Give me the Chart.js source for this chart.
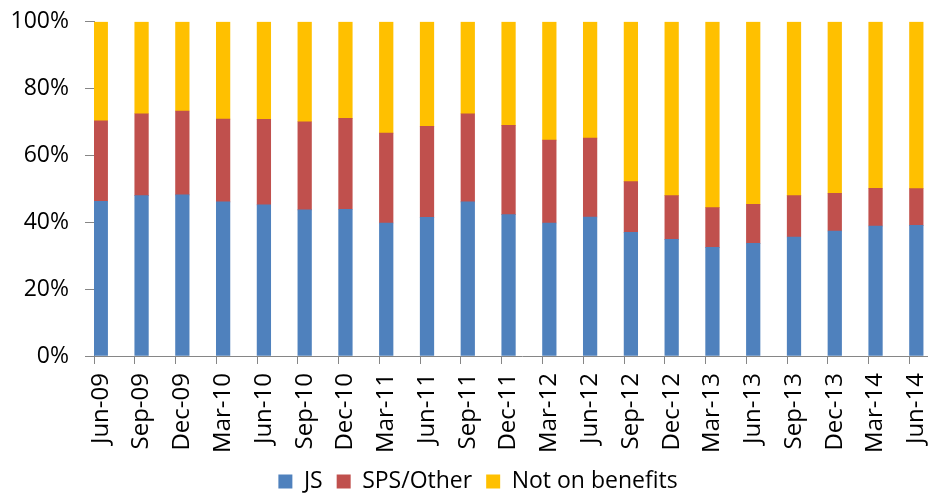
<!DOCTYPE html>
<html>
<head>
<meta charset="utf-8">
<script src="https://cdn.jsdelivr.net/npm/chart.js@4.4.1/dist/chart.umd.min.js"></script>
<style>
  html, body { margin: 0; padding: 0; background: #fff; }
  #wrap { width: 928px; height: 493px; overflow: hidden; position: relative; }
  canvas { display: block; margin-top: -8px; }
</style>
</head>
<body>
<div id="wrap"><canvas id="chart" width="968" height="511"></canvas></div>
<script>
// --- Dados ---
const quarters = ['Jun-09', 'Sep-09', 'Dec-09', 'Mar-10', 'Jun-10', 'Sep-10', 'Dec-10',
    'Mar-11', 'Jun-11', 'Sep-11', 'Dec-11', 'Mar-12', 'Jun-12', 'Sep-12', 'Dec-12',
    'Mar-13', 'Jun-13', 'Sep-13', 'Dec-13', 'Mar-14', 'Jun-14'];
const jsShare = [46.3, 48.0, 48.2, 46.1, 45.2, 43.7, 43.9, 39.8, 41.5, 46.1, 42.3,
    39.8, 41.6, 37.0, 34.9, 32.5, 33.7, 35.6, 37.4, 38.9, 39.1];
const spsShare = [24.1, 24.5, 25.1, 24.8, 25.6, 26.4, 27.2, 26.9, 27.2, 26.4, 26.7,
    24.8, 23.6, 15.2, 13.1, 11.9, 11.7, 12.4, 11.3, 11.3, 11.0];
const notOnBenefits = jsShare.map((v, i) => +(100 - v - spsShare[i]).toFixed(1));
const yTicks = [0, 20, 40, 60, 80, 100];

const Cores = {
    js: '#4F81BD',
    sps: '#C0504D',
    none: '#FFC000',
    axis: '#868686',
    text: '#000000'
};
const fonte = { family: '"Open Sans", sans-serif', size: 23 };
const fonteX = { family: '"Open Sans", sans-serif', size: 24 };

// Pilhas vazias só para empurrar as barras para o terço esquerdo de cada categoria
const vazio = quarters.map(() => null);

new Chart(document.getElementById('chart'), {
    type: 'bar',
    data: {
        labels: quarters,
        datasets: [
            { label: 'JS', data: jsShare, backgroundColor: Cores.js, stack: 'a' },
            { label: 'SPS/Other', data: spsShare, backgroundColor: Cores.sps, stack: 'a' },
            { label: 'Not on benefits', data: notOnBenefits, backgroundColor: Cores.none, stack: 'a' },
            { label: '_b', data: vazio, stack: 'b' },
            { label: '_c', data: vazio, stack: 'c' }
        ]
    },
    options: {
        responsive: false,
        animation: false,
        devicePixelRatio: 1,
        categoryPercentage: 1,
        barPercentage: 1,
        layout: { padding: { top: 14, right: 12, left: 0, bottom: 0 } },
        plugins: {
            tooltip: { enabled: false },
            legend: {
                position: 'bottom',
                labels: {
                    filter: (item) => item.datasetIndex < 3,
                    boxWidth: 14,
                    boxHeight: 14,
                    padding: 14,
                    color: Cores.text,
                    font: fonte
                }
            }
        },
        scales: {
            x: {
                stacked: true,
                offset: true,
                afterFit: (scale) => { scale.height = 100; },
                grid: {
                    offset: true,
                    drawOnChartArea: false,
                    drawTicks: true,
                    tickLength: 8,
                    color: Cores.axis
                },
                border: { color: Cores.axis, width: 1 },
                ticks: {
                    autoSkip: false,
                    maxRotation: 90,
                    minRotation: 90,
                    labelOffset: -13.6,
                    padding: 9,
                    color: Cores.text,
                    font: fonteX
                }
            },
            y: {
                stacked: true,
                min: 0,
                max: 100,
                afterFit: (scale) => { scale.width = 94; },
                afterBuildTicks: (scale) => { scale.ticks = yTicks.map(v => ({ value: v })); },
                grid: {
                    drawOnChartArea: false,
                    drawTicks: true,
                    tickLength: 9,
                    color: Cores.axis
                },
                border: { color: Cores.axis, width: 1 },
                ticks: {
                    padding: 16,
                    color: Cores.text,
                    font: fonte,
                    callback: (v) => v + '%'
                }
            }
        }
    }
});
</script>
</body>
</html>
